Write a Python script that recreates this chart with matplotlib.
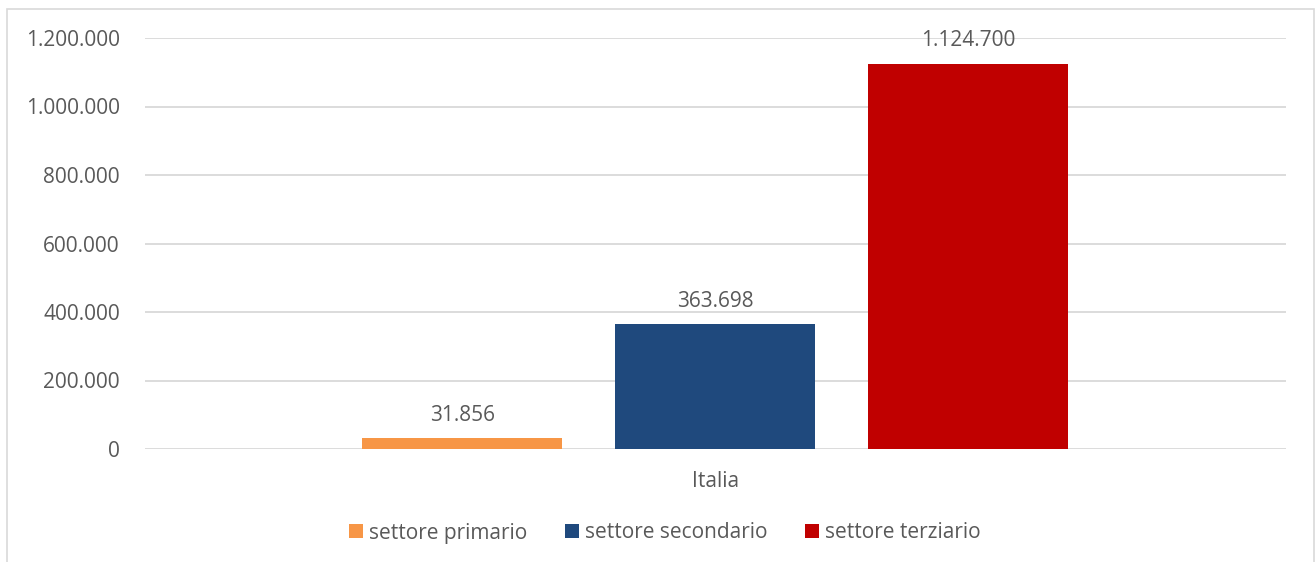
import numpy as np
import matplotlib
matplotlib.use("Agg")
import matplotlib.pyplot as plt
from matplotlib.patches import Rectangle, Patch
from matplotlib.ticker import FuncFormatter

# Occupati per settore - Italia
category = "Italia"
sectors = ["settore primario", "settore secondario", "settore terziario"]
values = [31856, 363698, 1124700]
colors = ["#F79646", "#1F497D", "#C00000"]
yticks = [0, 200000, 400000, 600000, 800000, 1000000, 1200000]

plt.rcParams['font.family'] = ['Open Sans', 'DejaVu Sans']
txt_color = "#595959"
grid_color = "#D9D9D9"

def it_fmt(v, pos=None):
    return f"{v:,.0f}".replace(",", ".")

W, H = 1315, 562
fig = plt.figure(figsize=(W / 100, H / 100), dpi=100)
ax = fig.add_axes([145 / W, 1 - 449 / H, (1286 - 145) / W, 411 / H])

# frame around the chart
fig.patches.append(Rectangle((7 / W, -0.05), (1314 - 7) / W, 1.05 - 9 / H,
                             transform=fig.transFigure, fill=False,
                             edgecolor=grid_color, linewidth=1.2))

x = np.array([-1, 0, 1])
width = 200 / 253
bars = ax.bar(x, values, width=width, color=colors, zorder=3)
ax.bar_label(bars, labels=[it_fmt(v) for v in values], padding=9,
             fontsize=15, color=txt_color)

ax.set_xlim(-2.255, 2.257)
ax.set_ylim(0, 1200000)
ax.set_yticks(yticks)
ax.yaxis.set_major_formatter(FuncFormatter(it_fmt))
ax.set_xticks([0])
ax.set_xticklabels([category])
ax.tick_params(axis='y', length=0, pad=18, labelsize=15, labelcolor=txt_color)
ax.tick_params(axis='x', length=0, pad=16, labelsize=15, labelcolor=txt_color)
ax.grid(axis='y', color=grid_color, linewidth=1.3, zorder=0)
for s in ax.spines.values():
    s.set_visible(False)

handles = [Patch(facecolor=c, edgecolor='none', label=l) for c, l in zip(colors, sectors)]
fig.legend(handles=handles, loc='center', bbox_to_anchor=(665 / W, 1 - 533 / H),
           ncol=3, frameon=False, fontsize=15, labelcolor=txt_color,
           handlelength=0.67, handleheight=0.67, handletextpad=0.3,
           columnspacing=1.8)

fig.savefig("out.png", dpi=100)
